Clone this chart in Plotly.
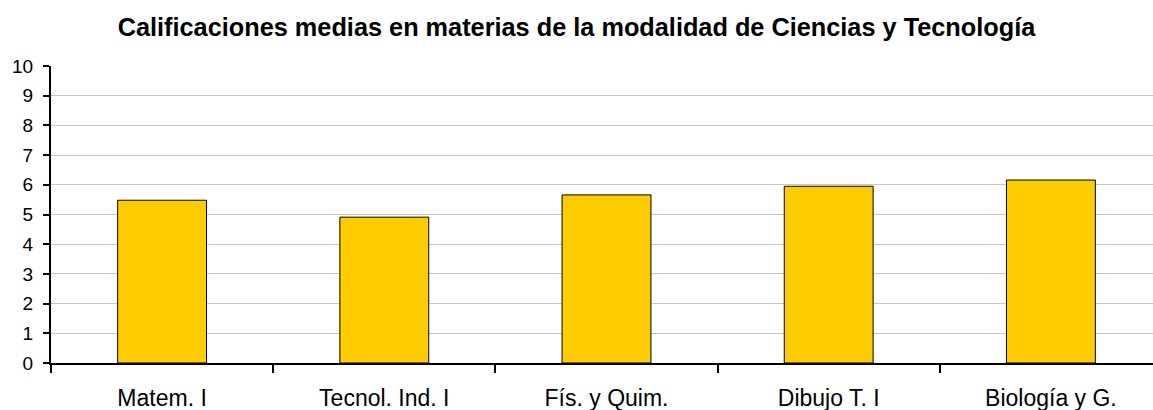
import plotly.graph_objects as go

# Mean grades per subject (0-10 scale)
materias = ["Matem. I", "Tecnol. Ind. I", "Fís. y Quim.", "Dibujo T. I", "Biología y G."]
notas = [5.48, 4.91, 5.66, 5.95, 6.16]
y_ticks = list(range(0, 11))

W, H = 1153, 410
left, right, top, bottom = 51, 0, 66, 47
cat_px = 222.2  # width of one category slot in pixels
x_max = -0.5 + (W - left - right) / cat_px

fig = go.Figure(
    go.Bar(
        x=materias,
        y=notas,
        width=0.40,
        marker=dict(color="#FFCC00", line=dict(color="#000000", width=1)),
        hoverinfo="x+y",
    )
)

fig.update_layout(
    width=W,
    height=H,
    margin=dict(l=left, r=right, t=top, b=bottom),
    paper_bgcolor="white",
    plot_bgcolor="white",
    showlegend=False,
    title=dict(
        text="<b>Calificaciones medias en materias de la modalidad de Ciencias y Tecnología</b>",
        x=0.5,
        xanchor="center",
        y=1 - 27 / H,
        yanchor="middle",
        font=dict(family="Liberation Sans, Arial, sans-serif", size=25.3, color="#000000"),
    ),
    font=dict(family="Liberation Sans, Arial, sans-serif", color="#000000"),
)

fig.update_xaxes(
    type="category",
    range=[-0.5, x_max],
    showline=True,
    linecolor="#000000",
    linewidth=2,
    ticks="outside",
    tickson="boundaries",
    ticklen=8,
    tickwidth=2,
    tickcolor="#000000",
    showgrid=False,
    tickfont=dict(size=23, color="#000000"),
    ticklabelstandoff=13,
)

fig.update_yaxes(
    range=[0, 10],
    tickvals=y_ticks,
    showline=True,
    linecolor="#000000",
    linewidth=2,
    ticks="outside",
    ticklen=6,
    tickwidth=2,
    tickcolor="#000000",
    showgrid=True,
    gridcolor="#c8c8c8",
    gridwidth=1,
    zeroline=False,
    tickfont=dict(size=19, color="#000000"),
    ticklabelstandoff=6,
)

fig.write_html("out.html")
